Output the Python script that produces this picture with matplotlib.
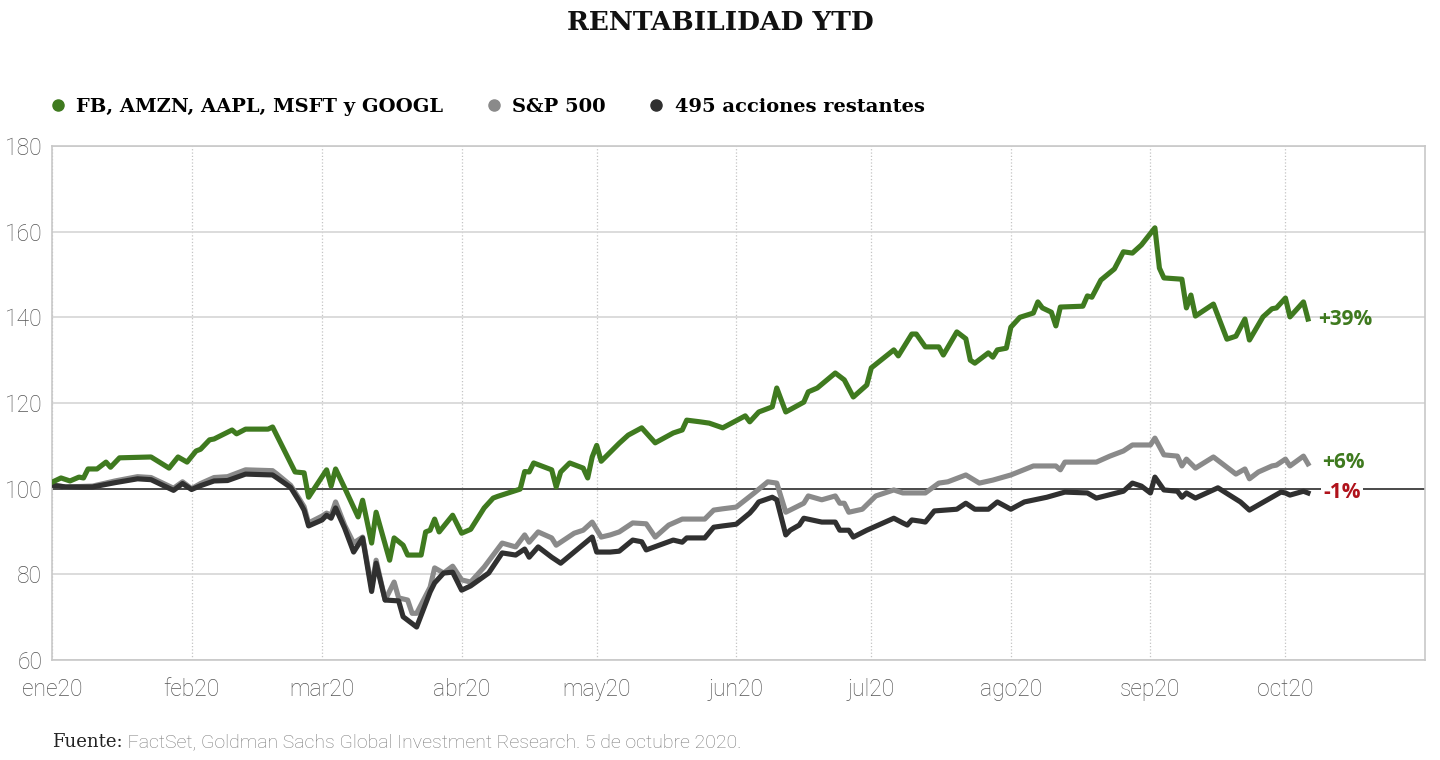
import matplotlib
matplotlib.use("Agg")
import numpy as np
import pandas as pd
import matplotlib.pyplot as plt
from matplotlib.lines import Line2D

# Datos: dias desde el 1 de enero de 2020, base 100
dias_big = [0, 2, 4, 6, 7, 8, 10, 12, 13, 15, 22, 26, 28, 30, 32, 33, 35, 36, 40, 41,
            43, 48, 49, 54, 56, 57, 61, 62, 63, 65, 68, 69, 71, 72, 75, 76, 78, 79, 82, 83,
            84, 85, 86, 89, 91, 93,
            96, 98, 99, 104, 105, 106, 107, 111, 112, 113, 115, 118, 119, 120, 121, 122, 126, 128, 131, 134,
            138, 140, 141, 144, 146, 149, 154, 155, 157, 160, 161, 163, 167, 168, 170, 174, 176, 178, 181, 182,
            187, 188, 191, 192, 194, 197, 198, 201, 203, 204, 205, 208, 209, 210, 212, 213, 215, 218, 219, 220,
            222, 223, 224, 229, 230, 231, 233, 236, 238, 240, 242, 245, 246, 247, 251, 252, 253, 254, 258, 261,
            263, 265, 266, 269, 271, 272, 274, 275, 278, 279]
big = [101.5, 102.5, 101.8, 102.7, 102.5, 104.6, 104.6, 106.2, 105, 107.2,
       107.4, 104.8, 107.4, 106.2, 108.8, 109.2, 111.4, 111.6, 113.7, 112.8,
       113.9, 113.9, 114.4, 103.9, 103.7, 98, 104.4, 100.6, 104.6, 100.2,
       93.4, 97.3, 87.3, 94.5, 83.3, 88.5, 86.8, 84.5, 84.5, 89.9,
       90.3, 92.9, 89.9, 93.8, 89.6, 90.5,
       95.5, 97.8, 98.2, 99.9, 104, 103.9, 106, 104.4, 100.4, 103.9,
       106, 104.8, 102.5, 107.4, 110.1, 106.4, 110.6, 112.5, 114.2, 110.7,
       113, 113.7, 116, 115.6, 115.3, 114.2, 117, 115.6, 117.9, 119.1,
       123.5, 117.9, 120.2, 122.6, 123.5, 127, 125.4, 121.4, 124.2, 128.2,
       132.4, 131, 136.1, 136.1, 133.1, 133.1, 131.2, 136.6, 135, 130,
       129.3, 131.7, 130.7, 132.4, 132.8, 137.7, 140, 141, 143.6, 142.2,
       141.2, 138, 142.4, 142.6, 145, 144.7, 148.7, 151.3, 155.3, 155,
       156.9, 160.9, 151.5, 149.2, 148.9, 142.2, 145.2, 140.3, 143.1, 134.9,
       135.6, 139.6, 134.7, 140.1, 142, 142.2, 144.5, 140.1, 143.6, 139.6]

dias_sp = [0, 3, 9, 14, 19, 22, 27, 29, 31, 33, 36, 39, 43, 49, 50, 53, 55, 56, 57, 60,
           61, 62, 63, 65, 67, 69, 71, 72, 74, 76, 77, 79, 80, 81, 84, 85, 87, 89, 91, 93,
           96, 100, 103, 105, 106, 108, 111, 112, 116, 118, 120, 122, 124, 126, 129, 132, 134, 137, 140, 145,
           147, 149, 152, 156, 159, 161, 163, 167, 168, 171, 174, 175, 176, 177, 180, 183, 187, 189, 194, 197,
           199, 203, 206, 209, 213, 218, 223, 224, 225, 232, 235, 238, 240, 244, 245, 247, 250, 251, 252, 254,
           258, 263, 265, 266, 268, 271, 272, 274, 275, 278, 279]
sp500 = [100.9, 100.4, 100.6, 101.8, 102.8, 102.6, 100.1, 101.6, 100, 101.2,
         102.6, 102.8, 104.4, 104.2, 103.4, 100.8, 97.5, 95.8, 92, 93.6,
         94.3, 93.8, 96.9, 91.5, 87.3, 88.7, 77, 83.3, 74, 78.2,
         74.5, 74, 70.9, 70.9, 77, 81.5, 80.3, 81.9, 78.7, 78.2,
         81.7, 87.3, 86.4, 89.2, 87.5, 89.9, 88.5, 86.8, 89.6, 90.3,
         92.2, 88.7, 89.2, 89.9, 92, 91.8, 88.7, 91.5, 92.9, 92.9,
         95, 95.3, 95.7, 99, 101.6, 101.3, 94.5, 96.6, 98.3, 97.4,
         98.3, 96.6, 96.6, 94.5, 95.2, 98.3, 99.7, 99, 99, 101.3,
         101.6, 103.2, 101.3, 102, 103.2, 105.3, 105.3, 104.4, 106.2, 106.2,
         107.6, 108.8, 110.2, 110.2, 111.8, 107.9, 107.6, 105.3, 106.9, 104.8,
         107.4, 103.4, 104.6, 102.3, 103.9, 105.3, 105.5, 106.9, 105.3, 107.6,
         105.8]

dias_resto = [0, 3, 9, 14, 19, 22, 27, 29, 31, 33, 36, 39, 43, 49, 50, 53, 55, 56, 57, 60,
              61, 62, 63, 65, 67, 69, 71, 72, 74, 77, 78, 81, 84, 85, 87, 89, 91, 93,
              97, 100, 103, 105, 106, 108, 111, 113, 120, 121, 124, 126, 129, 131, 132, 138, 140, 141, 145, 147,
              149, 152, 155, 156, 157, 160, 161, 163, 164, 166, 167, 171, 174, 175, 177, 178, 181, 187, 189, 190,
              191, 193, 194, 196, 201, 203, 205, 208, 210, 213, 216, 221, 225, 230, 232, 238, 240, 242, 244, 245,
              247, 250, 251, 252, 254, 259, 264, 266, 271, 273, 274, 275, 278, 279]
resto = [100.8, 100.4, 100.4, 101.4, 102.3, 102.1, 99.6, 101.2, 99.8, 100.7,
         101.8, 101.9, 103.4, 103.2, 102.5, 100.3, 96.9, 95, 91.3, 92.7,
         93.8, 93.1, 95.5, 90.8, 85.2, 88.5, 76, 82.6, 74, 73.8,
         70.1, 67.7, 75.9, 78, 80.3, 80.5, 76.3, 77.3,
         80.3, 85, 84.5, 85.9, 84, 86.4, 84, 82.6, 88.7, 85.2,
         85.2, 85.4, 88, 87.6, 85.7, 88, 87.5, 88.5, 88.5, 91,
         91.3, 91.7, 94.3, 95.5, 96.9, 98, 97.4, 89.2, 90.3, 91.5,
         93.1, 92.2, 92.2, 90.3, 90.3, 88.7, 90.3, 93.1, 92, 91.5,
         92.7, 92.4, 92.2, 94.8, 95.2, 96.6, 95.2, 95.2, 96.9, 95.2,
         96.9, 98, 99.2, 99, 97.8, 99.4, 101.3, 100.6, 99, 102.7,
         99.7, 99.4, 98, 99, 97.8, 100.2, 96.9, 95, 98, 99.2,
         99, 98.5, 99.4, 99]

series = ["FB, AMZN, AAPL, MSFT y GOOGL", "S&P 500", "495 acciones restantes"]
etiquetas_fin = ["+39%", "+6%", "-1%"]
meses = ["ene20", "feb20", "mar20", "abr20", "may20", "jun20", "jul20", "ago20", "sep20", "oct20"]

verde = "#3f7a1f"
gris = "#8a8a8a"
negro = "#303030"
rojo = "#b0121b"

inicio = pd.Timestamp("2020-01-01")
def fechas(dias):
    return inicio + pd.to_timedelta(dias, unit="D")

fig = plt.figure(figsize=(14.4, 7.6), dpi=100)
ax = fig.add_axes([52/1440, 1-660/760, (1425-52)/1440, (660-146)/760])

ax.axhline(100, color="#222222", lw=1.1, zorder=1.5)
ax.plot(fechas(dias_sp), sp500, color=gris, lw=3.7, zorder=3)
ax.plot(fechas(dias_resto), resto, color=negro, lw=3.7, zorder=4)
ax.plot(fechas(dias_big), big, color=verde, lw=3.7, zorder=5)

# etiquetas al final de cada linea
ax.annotate(etiquetas_fin[0], xy=(fechas(dias_big)[-1], big[-1]), xytext=(7, 0),
            textcoords="offset points", va="center", ha="left", color=verde,
            fontsize=15, fontweight="bold", family="Open Sans")
ax.annotate(etiquetas_fin[1], xy=(fechas(dias_sp)[-1], sp500[-1]), xytext=(10, 1),
            textcoords="offset points", va="center", ha="left", color=verde,
            fontsize=15, fontweight="bold", family="Open Sans")
ax.annotate(etiquetas_fin[2], xy=(fechas(dias_resto)[-1], resto[-1]), xytext=(11, 0),
            textcoords="offset points", va="center", ha="left", color=rojo,
            fontsize=15, fontweight="bold", family="Open Sans", zorder=6,
            bbox=dict(facecolor="white", edgecolor="none", pad=1.5))

ax.set_ylim(60, 180)
ax.set_yticks(np.arange(60, 181, 20))
ax.set_xlim(inicio, inicio + pd.Timedelta(days=305))
ax.set_xticks(pd.date_range("2020-01-01", periods=len(meses), freq="MS"))
ax.set_xticklabels(meses)

ax.yaxis.grid(True, color="#d6d6d6", lw=1.2)
ax.xaxis.grid(True, color="#c4c4c4", lw=0.9, linestyle=":")
ax.set_axisbelow(True)
for s in ax.spines.values():
    s.set_color("#c8c8c8")
    s.set_linewidth(1.2)

ax.tick_params(length=0, labelsize=16.5, labelcolor="#555555")
ax.tick_params(axis="y", pad=7)
ax.tick_params(axis="x", pad=13)
for lab in ax.get_xticklabels() + ax.get_yticklabels():
    lab.set_family("Roboto")
    lab.set_fontweight("light")

fig.text(0.5, 1-22/760, "RENTABILIDAD YTD", ha="center", va="center",
         fontsize=19, fontweight="bold", family="DejaVu Serif", color="#111111")

handles = [Line2D([], [], marker="o", ls="", color=c, markersize=8) for c in (verde, gris, negro)]
fig.legend(handles, series, loc="center left", bbox_to_anchor=(51/1440, 1-107/760),
           ncol=3, frameon=False, handlelength=0.7, handletextpad=0.6, columnspacing=2.25,
           borderpad=0, borderaxespad=0,
           prop=dict(family="DejaVu Serif", weight="bold", size=14))

t = fig.text(52/1440, 1-742/760, "Fuente:", ha="left", va="center",
             fontsize=13, family="DejaVu Serif", color="#222222")
ax.annotate(" FactSet, Goldman Sachs Global Investment Research. 5 de octubre 2020.",
            xy=(1, 0), xycoords=t, va="bottom", ha="left", fontsize=14,
            family="Roboto", fontweight="light", color="#7a7a7a", annotation_clip=False)

fig.savefig("out.png", dpi=100, facecolor="white")
